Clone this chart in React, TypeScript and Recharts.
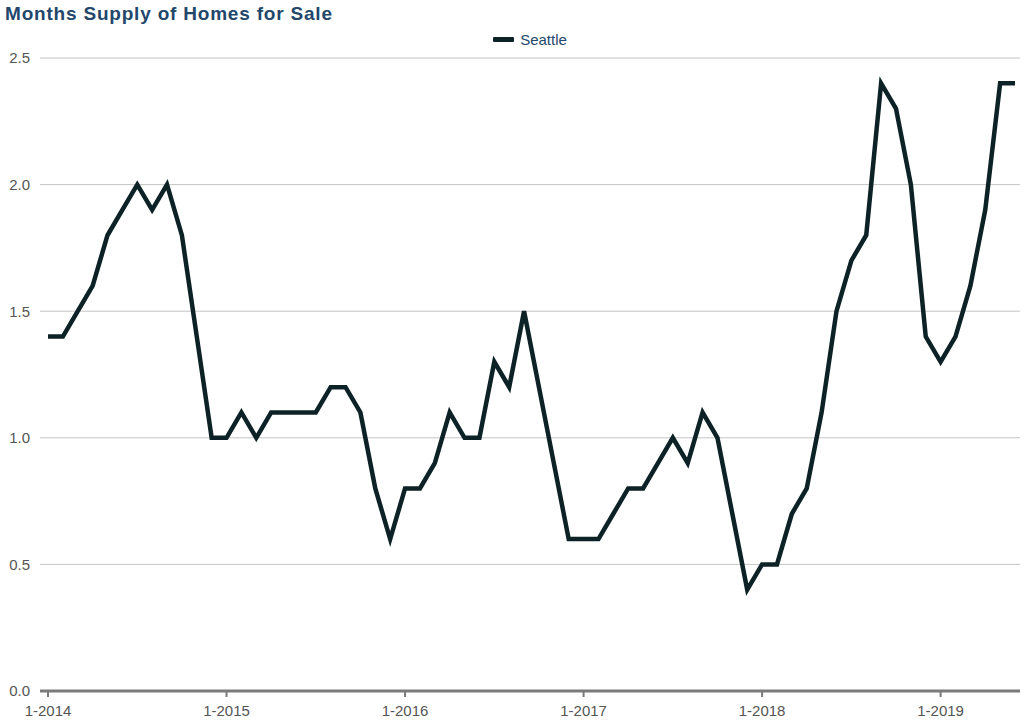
import React from 'react';
import { LineChart, Line, XAxis, YAxis, CartesianGrid } from 'recharts';

const years = [2014, 2015, 2016, 2017, 2018, 2019];
const monthsPerYear = [12, 12, 12, 12, 12, 6];
const months: string[] = years.flatMap((y, yi) =>
  Array.from({ length: monthsPerYear[yi] }, (_, m) => `${m + 1}-${y}`)
);

const seattle = [
  1.4, 1.4, 1.5, 1.6, 1.8, 1.9, 2.0, 1.9, 2.0, 1.8, 1.4, 1.0,
  1.0, 1.1, 1.0, 1.1, 1.1, 1.1, 1.1, 1.2, 1.2, 1.1, 0.8, 0.6,
  0.8, 0.8, 0.9, 1.1, 1.0, 1.0, 1.3, 1.2, 1.5, 1.2, 0.9, 0.6,
  0.6, 0.6, 0.7, 0.8, 0.8, 0.9, 1.0, 0.9, 1.1, 1.0, 0.7, 0.4,
  0.5, 0.5, 0.7, 0.8, 1.1, 1.5, 1.7, 1.8, 2.4, 2.3, 2.0, 1.4,
  1.3, 1.4, 1.6, 1.9, 2.4, 2.4,
];

const yTicks = [0, 0.5, 1.0, 1.5, 2.0, 2.5];

const data = months.map((month, i) => ({ month, Seattle: seattle[i] }));

const FONT = '"Liberation Sans", Arial, Helvetica, sans-serif';
const LINE_COLOR = '#0c2226';
const TITLE_COLOR = '#23476b';

export default function App() {
  return (
    <div style={{ position: 'absolute', left: 0, top: 0, width: 1024, height: 724, background: '#fff', fontFamily: FONT }}>
      <div style={{ position: 'absolute', left: 5, top: 3, fontSize: 19, letterSpacing: 0.8, fontWeight: 'bold', color: TITLE_COLOR, whiteSpace: 'nowrap' }}>
        Months Supply of Homes for Sale
      </div>
      <div style={{ position: 'absolute', left: 0, width: 1060, top: 31, display: 'flex', justifyContent: 'center', alignItems: 'center', fontSize: 15, color: TITLE_COLOR }}>
        <span style={{ display: 'inline-block', width: 21, height: 5, background: LINE_COLOR, marginRight: 6, borderRadius: 1 }} />
        <span>Seattle</span>
      </div>
      <LineChart width={1024} height={724} data={data} margin={{ top: 58, right: 4, bottom: 0, left: 0 }}>
        <CartesianGrid horizontal vertical={false} stroke="#c4c4c4" strokeWidth={1} />
        <XAxis
          dataKey="month"
          interval={11}
          height={33}
          padding={{ left: 8, right: 5 }}
          axisLine={{ stroke: '#7a7a7a', strokeWidth: 3 }}
          tickLine={{ stroke: '#7a7a7a', strokeWidth: 2 }}
          tickSize={6}
          tickMargin={8}
          tick={{ fill: '#555', fontSize: 15, fontFamily: FONT }}
        />
        <YAxis
          domain={[0, 2.5]}
          ticks={yTicks}
          width={40}
          axisLine={false}
          tickLine={false}
          tickMargin={4}
          tickFormatter={(v: number) => v.toFixed(1)}
          tick={{ fill: '#555', fontSize: 15, fontFamily: FONT }}
        />
        <Line
          type="linear"
          dataKey="Seattle"
          stroke={LINE_COLOR}
          strokeWidth={4.5}
          dot={false}
          isAnimationActive={false}
        />
      </LineChart>
    </div>
  );
}
